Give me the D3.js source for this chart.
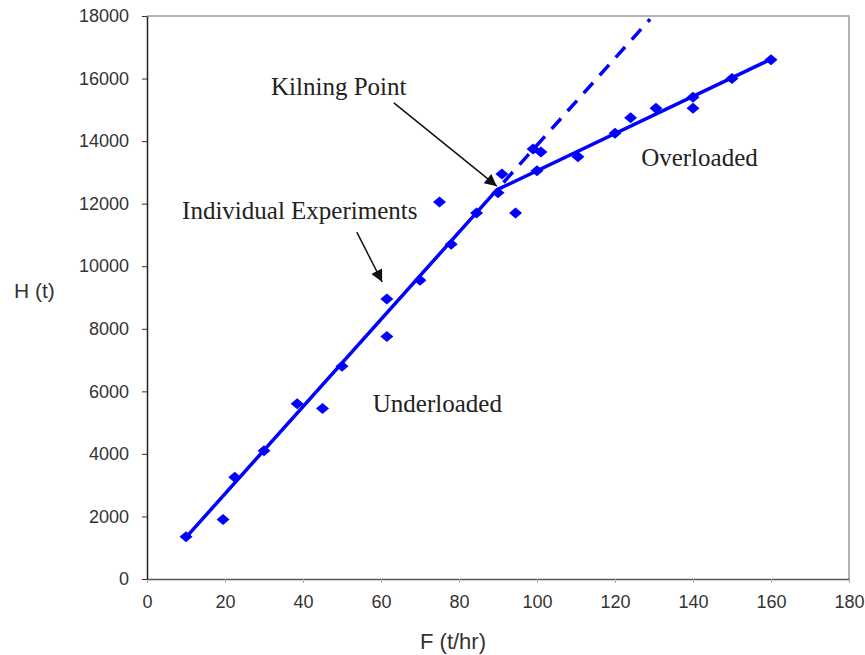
<!DOCTYPE html>
<html>
<head>
<meta charset="utf-8">
<script src="https://cdn.jsdelivr.net/npm/d3@7"></script>
<style>
  html, body { margin: 0; padding: 0; background: #fff; }
  svg { display: block; }
</style>
</head>
<body>
<svg id="chart" width="865" height="655"></svg>
<script>
// experiment data, F (t/hr) vs H (t)
const feedRate = [10, 19.5, 22.5, 30, 38.5, 45, 50, 61.5, 61.5, 70, 78, 75, 84.5, 90, 91, 94.5,
  99, 101, 100, 110.5, 120, 124, 130.5, 140, 140, 150, 160];
const holdup = [1350, 1900, 3250, 4100, 5600, 5450, 6800, 8950, 7750, 9550, 10700, 12050, 11700, 12350, 12950, 11700,
  13750, 13650, 13050, 13500, 14250, 14750, 15050, 15400, 15050, 16000, 16600];

// fitted lines
const underloadedFit = [[10, 1330], [89.7, 12440]];
const overloadedFit = [[89.7, 12440], [160, 16620]];
const extrapolation = [[89.7, 12440], [129, 17900]];

const xTicks = [0, 20, 40, 60, 80, 100, 120, 140, 160, 180];
const yTicks = [0, 2000, 4000, 6000, 8000, 10000, 12000, 14000, 16000, 18000];

const svg = d3.select('#chart');
const width = +svg.attr('width');
const height = +svg.attr('height');
const margin = { top: 16, right: 16, bottom: 76, left: 147 };

const x = d3.scaleLinear().domain([0, 180]).range([margin.left, width - margin.right]);
const y = d3.scaleLinear().domain([0, 18000]).range([height - margin.bottom, margin.top]);

const BLUE = '#0000ff';
const AXIS_FONT = 'Arial, "Liberation Sans", sans-serif';
const NOTE_FONT = '"Times New Roman", "Liberation Serif", serif';

// frame (top + right in grey)
svg.append('path')
  .attr('d', `M${x(0)},${y(18000)}H${x(180)}V${y(0)}`)
  .attr('fill', 'none')
  .attr('stroke', '#9a9a9a')
  .attr('stroke-width', 1.5);

// x axis
const xAxis = svg.append('g')
  .attr('transform', `translate(0,${y(0)})`)
  .call(d3.axisBottom(x).tickValues(xTicks).tickFormat(d3.format('d'))
    .tickSize(4).tickSizeOuter(0).tickPadding(12));
xAxis.select('.domain').attr('stroke', '#555').attr('stroke-width', 1.5);
xAxis.selectAll('.tick line').attr('stroke', '#aaa');
xAxis.selectAll('text')
  .attr('font-family', AXIS_FONT)
  .attr('font-size', 18)
  .attr('fill', '#333');

// y axis
const yAxis = svg.append('g')
  .attr('transform', `translate(${x(0)},0)`)
  .call(d3.axisLeft(y).tickValues(yTicks).tickFormat(d3.format('d'))
    .tickSize(5).tickSizeOuter(0).tickPadding(13));
yAxis.select('.domain').attr('stroke', '#222').attr('stroke-width', 1.5);
yAxis.selectAll('.tick line').attr('stroke', '#333');
yAxis.selectAll('text')
  .attr('font-family', AXIS_FONT)
  .attr('font-size', 18)
  .attr('fill', '#333');

// axis titles
svg.append('text')
  .attr('x', 453)
  .attr('y', 649)
  .attr('text-anchor', 'middle')
  .attr('font-family', AXIS_FONT)
  .attr('font-size', 22)
  .attr('fill', '#333')
  .text('F (t/hr)');

svg.append('text')
  .attr('x', 14)
  .attr('y', 298)
  .attr('font-family', AXIS_FONT)
  .attr('font-size', 21)
  .attr('fill', '#333')
  .text('H (t)');

// lines
const line = d3.line().x(d => x(d[0])).y(d => y(d[1]));

svg.append('path')
  .datum(extrapolation)
  .attr('d', line)
  .attr('fill', 'none')
  .attr('stroke', BLUE)
  .attr('stroke-width', 3.5)
  .attr('stroke-dasharray', '14,10')
  .attr('stroke-dashoffset', -10);

svg.append('path')
  .datum(underloadedFit.concat(overloadedFit.slice(1)))
  .attr('d', line)
  .attr('fill', 'none')
  .attr('stroke', BLUE)
  .attr('stroke-width', 3.5)
  .attr('stroke-linejoin', 'round');

// diamond markers
const points = feedRate.map((f, i) => ({ f, h: holdup[i] }));
svg.append('g')
  .selectAll('path')
  .data(points)
  .join('path')
  .attr('transform', d => `translate(${x(d.f)},${y(d.h)})`)
  .attr('d', 'M0,-5.5L6.5,0L0,5.5L-6.5,0Z')
  .attr('fill', BLUE);

// annotations
svg.append('defs')
  .append('marker')
  .attr('id', 'arrow')
  .attr('viewBox', '0 0 10 10')
  .attr('refX', 10)
  .attr('refY', 5)
  .attr('markerWidth', 16)
  .attr('markerHeight', 12)
  .attr('markerUnits', 'userSpaceOnUse')
  .attr('orient', 'auto')
  .append('path')
  .attr('d', 'M0,0L10,5L0,10Z')
  .attr('fill', '#111');

const notes = [
  { text: 'Kilning Point', f: 31.8, h: 15475 },
  { text: 'Individual Experiments', f: 9.0, h: 11510 },
  { text: 'Underloaded', f: 57.9, h: 5340 },
  { text: 'Overloaded', f: 126.7, h: 13200 }
];

svg.append('g')
  .selectAll('text')
  .data(notes)
  .join('text')
  .attr('x', d => x(d.f))
  .attr('y', d => y(d.h))
  .attr('font-family', NOTE_FONT)
  .attr('font-size', 25)
  .attr('fill', '#222')
  .text(d => d.text);

const arrows = [
  [[63.3, 15220], [89.7, 12560]],
  [[53.8, 11090], [60.3, 9495]]
];

svg.append('g')
  .selectAll('line')
  .data(arrows)
  .join('line')
  .attr('x1', d => x(d[0][0]))
  .attr('y1', d => y(d[0][1]))
  .attr('x2', d => x(d[1][0]))
  .attr('y2', d => y(d[1][1]))
  .attr('stroke', '#111')
  .attr('stroke-width', 1.5)
  .attr('marker-end', 'url(#arrow)');
</script>
</body>
</html>
